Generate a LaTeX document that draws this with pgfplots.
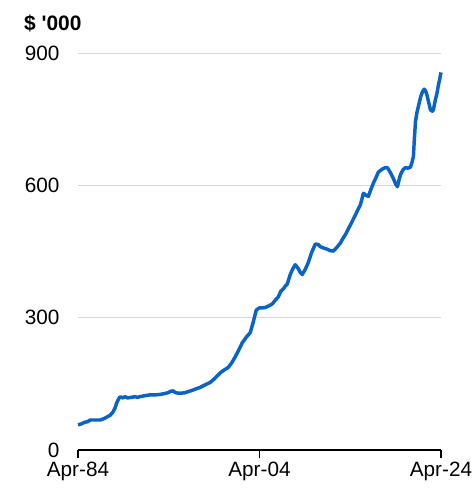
\documentclass[border=0pt]{standalone}
\usepackage{pgfplots}
\pgfplotsset{compat=1.18}
\usepackage{fontspec}
\setmainfont{Liberation Sans}
\definecolor{lineblue}{RGB}{10,100,200}
\definecolor{gridgray}{RGB}{215,215,215}
\begin{document}
\begin{tikzpicture}
\useasboundingbox (-78bp,-42bp) rectangle (398bp,450bp);
\begin{axis}[
  at={(0,0)}, anchor=south west,
  scale only axis,
  width=363bp, height=397bp,
  xmin=1984.25, xmax=2024.25,
  ymin=0, ymax=900,
  xtick={1984.25,2004.25,2024.25},
  xticklabels={Apr-84,Apr-04,Apr-24},
  ytick={0,300,600,900},
  axis lines*=left,
  y axis line style={draw=none},
  x axis line style={black, line width=1.2pt},
  ytick style={draw=none},
  xtick style={black, line width=1.2pt},
  xtick align=outside,
  major tick length=8bp,
  ymajorgrids,
  grid style={gridgray, line width=0.8pt},
  /pgf/number format/assume math mode=true,
  tick label style={font=\fontsize{20.8}{24}\selectfont},
  yticklabel style={xshift=-15bp},
  xticklabel style={yshift=-1bp},
  clip=false,
]
\addplot[lineblue, line width=3.5pt, line join=round] coordinates {
(1984.25,57) (1984.6,59) (1985.0,63) (1985.3,64) (1985.6,68) (1986.0,68) (1986.7,68) (1987.2,72)
(1987.8,79) (1988.1,86) (1988.33,95) (1988.5,106) (1988.66,113) (1988.85,120) (1989.0,120)
(1989.2,118) (1989.44,121) (1989.7,118) (1989.99,119) (1990.3,120) (1990.54,121) (1990.8,119)
(1991.09,121) (1991.6,123) (1992.19,125) (1992.8,125) (1993.3,126) (1993.8,128) (1994.18,130)
(1994.45,133) (1994.73,134) (1995.0,130) (1995.28,129) (1995.7,129) (1996.06,130) (1996.5,133)
(1996.94,136) (1997.3,139) (1997.71,142) (1998.1,146) (1998.48,150) (1998.8,153) (1999.15,159)
(1999.5,166) (1999.92,175) (2000.4,182) (2000.8,187) (2001.2,198) (2001.57,211) (2002.0,228)
(2002.35,243) (2002.8,256) (2003.23,266) (2003.56,290) (2003.89,317) (2004.22,322) (2004.5,322)
(2004.88,323) (2005.3,327) (2005.66,331) (2006.0,340) (2006.32,347) (2006.6,360) (2006.87,365)
(2007.1,372) (2007.31,376) (2007.64,398) (2007.9,410) (2008.19,420) (2008.5,412) (2008.75,402)
(2008.97,398) (2009.3,410) (2009.63,425) (2010.0,448) (2010.4,467) (2010.7,466) (2010.95,461)
(2011.3,458) (2011.73,455) (2012.0,452) (2012.39,451) (2012.8,460) (2013.16,469) (2013.45,480)
(2013.71,488) (2014.0,500) (2014.26,510) (2014.55,522) (2014.82,533) (2015.1,545) (2015.37,556)
(2015.55,570) (2015.7,582) (2015.95,578) (2016.25,575) (2016.55,592) (2016.8,605) (2017.1,618)
(2017.35,630) (2017.8,637) (2018.1,640) (2018.35,640) (2018.7,628) (2019.01,615) (2019.25,603)
(2019.45,597) (2019.6,610) (2019.78,624) (2020.05,635) (2020.33,640) (2020.6,639) (2020.88,641)
(2021.05,652) (2021.21,665) (2021.3,700) (2021.44,745) (2021.6,765) (2021.77,780) (2022.0,800)
(2022.21,812) (2022.4,818) (2022.54,815) (2022.7,805) (2022.87,790) (2023.09,771) (2023.3,768)
(2023.42,772) (2023.64,795) (2023.8,808) (2023.97,828) (2024.1,840) (2024.25,856)
};
\end{axis}
\node[anchor=base west, inner sep=0pt, font=\bfseries\fontsize{21}{24}\selectfont] at (-54bp,419bp) {\$ \textquotesingle 000};
\end{tikzpicture}
\end{document}
